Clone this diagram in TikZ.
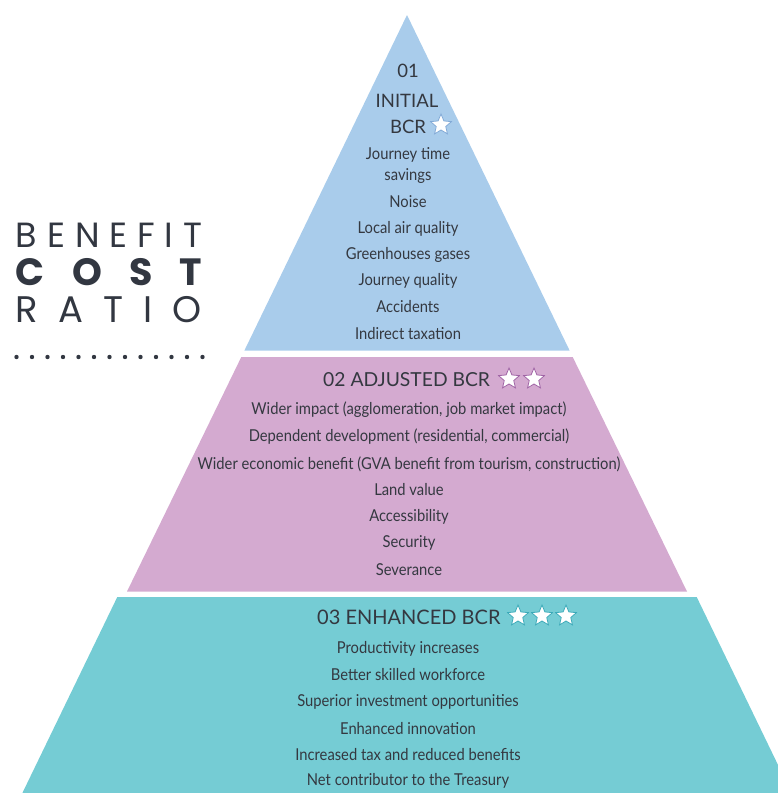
\documentclass[tikz,border=0pt]{standalone}
\usepackage{fontspec}
\setmainfont{Lato}
\newfontfamily\bodyfont[FakeStretch=0.9]{Lato}
\newfontfamily\titlefont{Poppins}
\usetikzlibrary{shapes.geometric}
\definecolor{tierblue}{RGB}{169,204,235}
\definecolor{tierpink}{RGB}{212,170,208}
\definecolor{tierteal}{RGB}{117,204,212}
\definecolor{txt}{RGB}{52,56,64}
\definecolor{titletxt}{RGB}{50,55,65}
\definecolor{starblue}{RGB}{130,170,215}
\definecolor{starpink}{RGB}{160,100,165}
\definecolor{starteal}{RGB}{60,170,185}
\tikzset{
  bodytext/.style={font=\bodyfont\fontsize{16.4}{18}\selectfont, text=txt, inner sep=0pt, anchor=center},
  headtext/.style={font=\fontsize{18.5}{20}\selectfont, text=txt, inner sep=0pt, anchor=center},
  starmark/.style={star, star points=5, star point ratio=2.2, minimum size=22pt, inner sep=0pt, fill=white, line width=0.8pt},
  titleline/.style={inner sep=0pt, anchor=center, text=titletxt}
}
\begin{document}
\begin{tikzpicture}[x=1pt,y=-1pt]
\useasboundingbox (0,0) rectangle (778,793);
\begin{scope}
\clip (0,0) rectangle (778,793);
% tiers
\fill[tierblue] (407,15) -- (569.6,350.5) -- (244.4,350.5) -- cycle;
\fill[tierpink] (241.3,357) -- (572.7,357) -- (687,591.5) -- (127,591.5) -- cycle;
\fill[tierteal] (117.3,597) -- (696.7,597) -- (795,800) -- (19,800) -- cycle;
\end{scope}

% title
\node[titleline, font=\titlefont\fontsize{35}{35}\selectfont] (tB) at (109,235.5) {\makebox[186pt][s]{B\hfill E\hfill N\hfill E\hfill F\hfill I\hfill T}};
\node[titleline, font=\titlefont\bfseries\fontsize{38}{38}\selectfont] (tC) at (109,272) {\makebox[186pt][s]{C\hfill O\hfill S\hfill T}};
\node[titleline, font=\titlefont\fontsize{37}{37}\selectfont] (tR) at (109,310) {\makebox[186pt][s]{R\hfill A\hfill T\hfill I\hfill O}};
\foreach \i in {0,...,12}{
  \fill[titletxt] (16.5+\i*15.5,357) circle (2.2pt);
}

% tier 1
\node[headtext] (h1a) at (408,71) {01};
\node[headtext] (h1b) at (407,101) {INITIAL};
\node[headtext] (h1c) at (408,127) {BCR};
\node[starmark, draw=starblue] (s1) at (441,125) {};
\foreach \txtline/\yy [count=\n] in {{Journey time}/155,{savings}/176,{Noise}/202,{Local air quality}/229,{Greenhouses gases}/255,{Journey quality}/281,{Accidents}/307,{Indirect taxation}/334}{
  \node[bodytext] (a\n) at (408,\yy) {\txtline};
}

% tier 2
\node[headtext, anchor=west, font=\fontsize{19.3}{20}\selectfont] (h2) at (323,380) {02 ADJUSTED BCR};
\node[starmark, draw=starpink] (s2a) at (509,379) {};
\node[starmark, draw=starpink] (s2b) at (534,379) {};
\foreach \txtline/\yy [count=\n] in {{Wider impact (agglomeration, job market impact)}/410,{Dependent development (residential, commercial)}/437,{Wider economic benefit (GVA benefit from tourism, construction)}/464,{Land value}/490,{Accessibility}/517,{Security}/543,{Severance}/570}{
  \node[bodytext] (b\n) at (409,\yy) {\txtline};
}

% tier 3
\node[headtext, anchor=west, font=\fontsize{20}{21}\selectfont] (h3) at (317,617) {03 ENHANCED BCR};
\node[starmark, draw=starteal] (s3a) at (518,616) {};
\node[starmark, draw=starteal] (s3b) at (542,616) {};
\node[starmark, draw=starteal] (s3c) at (566,616) {};
\foreach \txtline/\yy [count=\n] in {{Productivity increases}/649,{Better skilled workforce}/675,{Superior investment opportunities}/702,{Enhanced innovation}/729,{Increased tax and reduced benefits}/755,{Net contributor to the Treasury}/781}{
  \node[bodytext] (c\n) at (408,\yy) {\txtline};
}
\end{tikzpicture}
\end{document}
